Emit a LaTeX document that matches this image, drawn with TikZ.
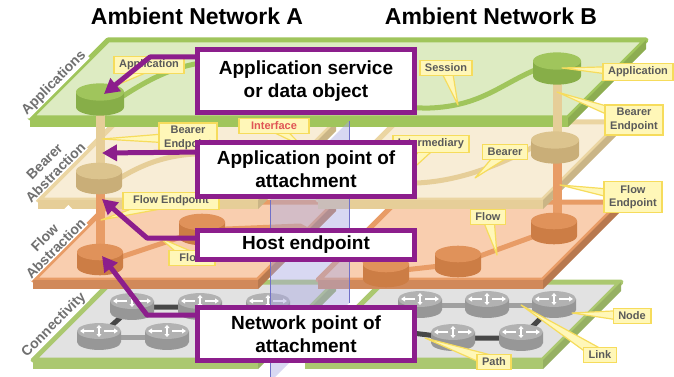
\documentclass[tikz,border=0pt]{standalone}
\usepackage{fontspec}
\setmainfont{Liberation Sans}
\usetikzlibrary{calc,arrows.meta}

\definecolor{appgreen}{HTML}{A0C55C}
\definecolor{appfill}{HTML}{DDEBC2}
\definecolor{appside}{HTML}{87AE48}
\definecolor{bearedge}{HTML}{EBD5A2}
\definecolor{bearband}{HTML}{E6CE98}
\definecolor{bearfill}{HTML}{F8EDD6}
\definecolor{beartop}{HTML}{DCC48E}
\definecolor{bearside}{HTML}{C9AE78}
\definecolor{flowedge}{HTML}{E89C66}
\definecolor{flowband}{HTML}{D1895A}
\definecolor{flowfill}{HTML}{F9CEAF}
\definecolor{flowtop}{HTML}{E0925A}
\definecolor{flowside}{HTML}{CC7D45}
\definecolor{connfill}{HTML}{E2E2E2}
\definecolor{connedge}{HTML}{ABC870}
\definecolor{routertop}{HTML}{B2B2B2}
\definecolor{routerside}{HTML}{979797}
\definecolor{ifblue}{HTML}{A9A9E2}
\definecolor{ifline}{HTML}{7070C8}
\definecolor{callpurple}{HTML}{8C1E8C}
\definecolor{tagfill}{HTML}{FFF7B8}
\definecolor{tagedge}{HTML}{F6DC5C}
\definecolor{taggray}{HTML}{5A5A5A}
\definecolor{layergray}{HTML}{707070}
\definecolor{ifred}{HTML}{E05555}

% one layer: front-left x, front-left y, width, top fill, rim, front band
\newcommand\layer[6]{
  \filldraw[fill=#4,draw=#5,line width=5pt,line join=round]
    (#1,#2) -- (#1+#3,#2) -- (#1+#3+78,#2-78) -- (#1+78,#2-78) -- cycle;
  \fill[#6] (#1,#2) rectangle (#1+#3,#2+9);
  \fill[#6!88!black] (#1+#3,#2) -- (#1+#3+78,#2-78) -- (#1+#3+78,#2-69) -- (#1+#3,#2+9) -- cycle;
}
% puck: [height] centre x, top y, half width, top colour, side colour
\newcommand\puck[6][15]{
  \fill[#6] (#2-#4,#3) -- (#2-#4,#3+#1)
    arc[start angle=180,end angle=360,x radius=#4pt,y radius=0.36*#4pt] -- (#2+#4,#3) -- cycle;
  \fill[#5] (#2,#3) ellipse[x radius=#4pt,y radius=0.36*#4pt];
}
\newcommand\router[2]{
  \puck[11]{#1}{#2}{22}{routertop}{routerside}
  \draw[white,line width=1.3pt,-{Triangle[length=4pt,width=5pt]}] (#1-5,#2) -- (#1-19,#2);
  \draw[white,line width=1.3pt,-{Triangle[length=4pt,width=5pt]}] (#1+5,#2) -- (#1+19,#2);
  \draw[white,line width=1.5pt,{Triangle[length=3pt,width=5pt]}-{Triangle[length=3pt,width=5pt]}] (#1,#2-6) -- (#1,#2+6);
}
% callout tail from a label centre to its tip
\newcommand\tagtail[2]{
  \filldraw[tailstyle] (#2) -- ($(#1)!6pt!90:(#2)$) -- ($(#1)!6pt!-90:(#2)$) -- cycle;
}

\begin{document}
\begin{tikzpicture}[x=1pt,y=-1pt,
  tag/.style={fill=tagfill,draw=tagedge,line width=1.5pt,font=\fontsize{11}{13.5}\selectfont\bfseries,
    text=taggray,inner xsep=5pt,inner ysep=3.5pt,align=center},
  tailstyle/.style={fill=tagfill,draw=tagedge,line width=1.2pt,line join=round},
  callbox/.style={draw=callpurple,line width=5pt,fill=white,minimum width=217pt,align=center,
    font=\fontsize{19}{23}\selectfont\bfseries},
  pointer/.style={draw=callpurple,line width=5pt,line join=round,-{Triangle[length=15pt,width=16pt]}},
  layertxt/.style={font=\fontsize{14}{15.5}\selectfont\bfseries,text=layergray,fill=white,inner sep=1pt,align=center,rotate=45},
  titletxt/.style={font=\fontsize{23}{26}\selectfont\bfseries,anchor=base},
  lightlink/.style={draw=routertop!90!black,line width=5pt},
  darklink/.style={draw=black!72,line width=5pt},
  pole/.style={line width=9pt}]
\useasboundingbox (0,0) rectangle (674,377);

% layers, lowest first
\layer{33}{360}{225}{connfill}{connedge}{connedge}
\layer{305}{360}{238}{connfill}{connedge}{connedge}
\layer{33}{280}{225}{flowfill}{flowedge}{flowband}
\layer{318}{280}{225}{flowfill}{flowedge}{flowband}
\layer{38}{200}{220}{bearfill}{bearedge}{bearband}
\layer{318}{200}{225}{bearfill}{bearedge}{bearband}
\layer{30}{118}{538}{appfill}{appgreen}{appgreen}

% connectivity: links and nodes
\coordinate (rA1) at (132,307); \coordinate (rA2) at (200,307); \coordinate (rA3) at (268,307);
\coordinate (rA4) at (99,337);  \coordinate (rA5) at (167,337);
\coordinate (rB1) at (420,305); \coordinate (rB2) at (487,305); \coordinate (rB3) at (554,305);
\coordinate (rB4) at (453,338); \coordinate (rB5) at (521,338);
\draw[lightlink] (rA2) -- (rA3) (rA4) -- (rA5) (rB1) -- (rB2) -- (rB3);
\draw[darklink] (rA4) -- (rA1) -- (rA2) -- (rB4) -- (rB5) -- (rB3);
\foreach \x/\y in {132/301,200/301,268/301,99/331,167/331,420/299,487/299,554/299,453/332,521/332}
  {\router{\x}{\y}}

% session, bearer and flow lines
\draw[appgreen,line width=5pt] (120,98) .. controls (160,72) and (185,62) .. (230,60)
  .. controls (330,60) and (360,110) .. (430,108) .. controls (480,106) and (500,85) .. (535,70);
\draw[bearband,line width=5pt] (120,178) .. controls (150,160) and (180,150) .. (230,155)
  .. controls (330,170) and (360,185) .. (417,183) .. controls (460,181) and (500,165) .. (535,146);
\draw[flowedge,line width=5pt,line join=round] (118,258) -- (202,230) -- (300,226) -- (386,272)
  -- (458,264) -- (554,229);

% poles between the layers
\draw[pole,bearband] (100,100) -- (100,180);
\draw[pole,flowedge] (100,185) -- (100,258);
\draw[pole,bearband] (557,68) -- (557,148);
\draw[pole,flowedge] (557,150) -- (557,228);

% endpoints
\puck{100}{92}{24}{appgreen}{appside}
\puck{557}{61}{24}{appgreen}{appside}
\puck{99}{171}{23}{beartop}{bearside}
\puck{555}{140}{24}{beartop}{bearside}
\foreach \x/\y in {100/252,202/222,386/264,458/254,554/221}
  {\puck{\x}{\y}{23}{flowtop}{flowside}}

% interface plane
\fill[ifblue,opacity=0.45] (270,200) -- (349,121) -- (349,303) -- (270,382) -- cycle;
\draw[ifline,line width=0.8pt] (270,200) -- (270,382) (349,121) -- (349,303);

% layer names and titles
\node[layertxt] (nApp) at (54,83) {Applications};
\node[layertxt] (nBear) at (50,167) {Bearer\\Abstraction};
\node[layertxt] (nFlow) at (50,243) {Flow\\Abstraction};
\node[layertxt] (nConn) at (54,325) {Connectivity};
\node[titletxt] (titleA) at (197,25) {Ambient Network A};
\node[titletxt] (titleB) at (491,25) {Ambient Network B};

% callout labels
\coordinate (lAppA) at (149,65);   \coordinate (pAppA) at (110,88);
\coordinate (lSess) at (446,68);   \coordinate (pSess) at (458,105);
\coordinate (lAppB) at (638,72);   \coordinate (pAppB) at (562,68);
\coordinate (lBEB) at (634,120);   \coordinate (pBEB) at (557,92);
\coordinate (lBEA) at (188,138);   \coordinate (pBEA) at (102,139);
\coordinate (lIf) at (274,126);    \coordinate (pIf) at (302,146);
\coordinate (lInt) at (431,144);   \coordinate (pInt) at (395,185);
\coordinate (lBear) at (505,152);  \coordinate (pBear) at (475,178);
\coordinate (lFEA) at (171,201);   \coordinate (pFEA) at (101,220);
\coordinate (lFlowA) at (192,258); \coordinate (pFlowA) at (160,238);
\coordinate (lFEB) at (633,197);   \coordinate (pFEB) at (560,185);
\coordinate (lFlowB) at (488,217); \coordinate (pFlowB) at (497,255);
\coordinate (lNode) at (632,316);  \coordinate (pNode) at (572,313);
\coordinate (lLink) at (600,355);  \coordinate (pLink) at (521,305);
\coordinate (lPath) at (494,362);  \coordinate (pPath) at (425,338);
\foreach \l/\p in {lAppA/pAppA,lSess/pSess,lAppB/pAppB,lBEB/pBEB,lBEA/pBEA,lIf/pIf,lInt/pInt,
  lBear/pBear,lFEA/pFEA,lFlowA/pFlowA,lFEB/pFEB,lFlowB/pFlowB,lNode/pNode,lLink/pLink,lPath/pPath}
  {\tagtail{\l}{\p}}
\node[tag] (tAppA) at (lAppA) {Application};
\node[tag] (tSess) at (lSess) {Session};
\node[tag] (tAppB) at (lAppB) {Application};
\node[tag] (tBEB) at (lBEB) {Bearer\\Endpoint};
\node[tag] (tBEA) at (lBEA) {Bearer\\Endpoint};
\node[tag,text=ifred,minimum width=70pt] (tIf) at (lIf) {Interface};
\node[tag] (tInt) at (lInt) {Intermediary};
\node[tag] (tBear) at (lBear) {Bearer};
\node[tag,minimum width=96pt] (tFEA) at (lFEA) {Flow Endpoint};
\node[tag,minimum width=46pt] (tFlowA) at (lFlowA) {Flow};
\node[tag] (tFEB) at (lFEB) {Flow\\Endpoint};
\node[tag] (tFlowB) at (lFlowB) {Flow};
\node[tag] (tNode) at (lNode) {Node};
\node[tag] (tLink) at (lLink) {Link};
\node[tag] (tPath) at (lPath) {Path};

% purple call-outs
\coordinate (s1) at (205,57);  \coordinate (k1) at (150,57);  \coordinate (e1) at (104,94);
\coordinate (s2) at (205,152); \coordinate (e2) at (102,153);
\coordinate (s3) at (205,238); \coordinate (k3) at (147,238); \coordinate (e3) at (102,199);
\coordinate (s4) at (205,315); \coordinate (k4) at (147,315); \coordinate (e4) at (102,256);
\draw[pointer] (s1) -- (k1) -- (e1);
\draw[pointer] (s2) -- (e2);
\draw[pointer] (s3) -- (k3) -- (e3);
\draw[pointer] (s4) -- (k4) -- (e4);
\node[callbox,minimum height=63pt] (bx1) at (306,81) {Application service\\or data object};
\node[callbox,minimum height=54pt] (bx2) at (306,169.5) {Application point of\\attachment};
\node[callbox,minimum height=29pt] (bx3) at (306,245) {Host endpoint};
\node[callbox,minimum height=53pt] (bx4) at (306,334) {Network point of\\attachment};

\end{tikzpicture}
\end{document}
